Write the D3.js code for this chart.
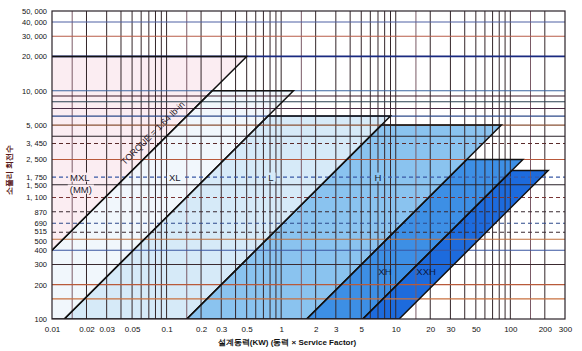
<!DOCTYPE html>
<html>
<head>
<meta charset="utf-8">
<script src="https://cdn.jsdelivr.net/npm/d3@7"></script>
<style>
  body { margin: 0; background: #fff; }
  svg { display: block; }
  text { font-family: "Liberation Sans", Arial, sans-serif; }
</style>
</head>
<body>
<svg id="chart" width="582" height="351"></svg>
<script>
// belt bands: each one sits between two constant-torque diagonals
const belts = ["MXL", "XL", "L", "H", "XH", "XXH"];
const beltMaxRpm = [20000, 10000, 6000, 5000, 2500, 2000];
// kW read at 100 rpm on the left / right diagonal of each band
const beltLowKw = [0.000001, 0.0025, 0.0128, 0.15, 1.67, 5.15];
const beltHighKw = [0.0025, 0.0128, 0.15, 1.67, 5.15, 10.7];
const labelKw = [0.0175, 0.118, 0.815, 7, 8.05, 18.4];
const labelRpm = [1750, 1750, 1750, 1750, 258, 258];

const xTicks = [0.01, 0.02, 0.03, 0.05, 0.1, 0.2, 0.3, 0.5, 1, 2, 3, 5, 10, 20, 30, 50, 100, 200, 300];
const yTicks = [50000, 40000, 30000, 20000, 10000, 5000, 3450, 2500, 1750, 1500, 1160, 870, 690, 575, 500, 400, 300, 200, 100];
const yTickText = ["50, 000", "40, 000", "30, 000", "20, 000", "10, 000", "5, 000", "3, 450", "2, 500", "1, 750", "1, 500", "1, 100", "870", "690", "515", "500", "400", "300", "200", "100"];

const gridMantissa = [1, 1.5, 2, 3, 4, 5, 6, 7, 8, 9];
const rpmSolid = [150, 200, 300, 400, 500, 1500, 2500, 4000, 5000, 6000, 7000, 8000, 9000, 10000, 20000, 30000, 40000];
const rpmDashed = [575, 690, 870, 1160, 1750, 3450];

const torqueLabel = "TORQUE = 1.64 lb-in";
const torqueLabelKw = 0.09;

// styles
const bandFill = {
  MXL: "#fbedf2",
  XL: "#f1f7fc",
  L: "#d6eaf8",
  H: "#8ac3ef",
  XH: "#3d8fe5",
  XXH: "#1d6bdd",
};
const rowColor = {
  150: "#c8703f", 200: "#b85a3a", 300: "#3a2a30", 400: "#3a56a0", 500: "#c0703c",
  575: "#3a2a30", 690: "#2e4a8a", 870: "#3a2a30", 1160: "#7a3434", 1500: "#2a2228",
  1750: "#3a5aa6", 2500: "#b8583a", 3450: "#5a2a2a", 4000: "#2a2228", 5000: "#8a5236",
  6000: "#2e4a8a", 7000: "#4a2c44", 8000: "#2a4050", 9000: "#3a1a2a", 10000: "#3a64a0",
  20000: "#1a2a80", 30000: "#b85c48", 40000: "#4e60a4",
};
// vertical lines at the 1.5 steps look lighter in print
const halfStepColor = "#7a5a66";
const gridColor = "#34262a";

const svg = d3.select("#chart");
const x = d3.scaleLog().domain([0.01, 300]).range([52, 565]);
const y = d3.scaleLog().domain([100, 50000]).range([319, 11]);
const [x0, x1] = x.range();
const [y0, y1] = y.range();

svg.append("defs").append("clipPath").attr("id", "plot")
  .append("rect")
  .attr("x", x0).attr("y", y1)
  .attr("width", x1 - x0).attr("height", y0 - y1);

const bands = belts.map((name, i) => {
  const top = beltMaxRpm[i];
  const k = top / 100;
  return {
    name,
    pts: [
      [beltLowKw[i], 100],
      [beltHighKw[i], 100],
      [beltHighKw[i] * k, top],
      [beltLowKw[i] * k, top],
    ],
  };
});
const line = d3.line().x((d) => x(d[0])).y((d) => y(d[1]));

const plot = svg.append("g").attr("clip-path", "url(#plot)");

plot.append("g").selectAll("path")
  .data(bands)
  .join("path")
  .attr("d", (d) => line(d.pts) + "Z")
  .attr("fill", (d) => bandFill[d.name]);

// vertical grid
const vGrid = [];
for (let e = -2; e <= 2; e++) {
  gridMantissa.forEach((m) => {
    const v = +(m * Math.pow(10, e)).toPrecision(3);
    if (v > 0.01 && v < 300) vGrid.push({ v, half: m === 1.5 });
  });
}
plot.append("g").selectAll("line")
  .data(vGrid)
  .join("line")
  .attr("x1", (d) => x(d.v)).attr("x2", (d) => x(d.v))
  .attr("y1", y0).attr("y2", y1)
  .attr("stroke", (d) => (d.half ? halfStepColor : gridColor))
  .attr("stroke-width", 1);

// horizontal grid
plot.append("g").selectAll("line")
  .data(rpmSolid)
  .join("line")
  .attr("x1", x0).attr("x2", x1)
  .attr("y1", (d) => y(d)).attr("y2", (d) => y(d))
  .attr("stroke", (d) => rowColor[d])
  .attr("stroke-width", (d) => (d === 20000 ? 1.6 : 1.1));

plot.append("g").selectAll("line")
  .data(rpmDashed)
  .join("line")
  .attr("x1", x0).attr("x2", x1)
  .attr("y1", (d) => y(d)).attr("y2", (d) => y(d))
  .attr("stroke", (d) => rowColor[d])
  .attr("stroke-width", 1.1)
  .attr("stroke-dasharray", "4,3");

// band outlines
plot.append("g").selectAll("path")
  .data(bands)
  .join("path")
  .attr("d", (d) => line(d.pts) + "Z")
  .attr("fill", "none")
  .attr("stroke", "#111")
  .attr("stroke-width", 1.5);

// frame
svg.append("rect")
  .attr("x", x0).attr("y", y1)
  .attr("width", x1 - x0).attr("height", y0 - y1)
  .attr("fill", "none")
  .attr("stroke", "#2a2228")
  .attr("stroke-width", 1.2);

// axes
const xAxis = svg.append("g")
  .attr("transform", `translate(0,${y0})`)
  .call(d3.axisBottom(x).tickValues(xTicks).tickFormat((d) => String(d)).tickSize(0).tickPadding(7));
xAxis.select(".domain").remove();
xAxis.selectAll("text").attr("font-size", 8).attr("fill", "#111")
  .attr("font-family", '"Liberation Sans", Arial, sans-serif');

const yAxis = svg.append("g")
  .attr("transform", `translate(${x0},0)`)
  .call(d3.axisLeft(y).tickValues(yTicks).tickFormat((d, i) => yTickText[i]).tickSize(0).tickPadding(5));
yAxis.select(".domain").remove();
yAxis.selectAll("text")
  .attr("font-size", 7.5)
  .attr("fill", "#111")
  .attr("font-family", '"Liberation Sans", Arial, sans-serif')
  // the 515 / 500 labels are spread apart in print
  .attr("dy", (d) => (d === 500 ? "0.62em" : d === 575 ? "0.22em" : "0.32em"));

// band labels with knock-out background
const labels = svg.append("g");
function addLabel(px, py, text, fill, bg) {
  const g = labels.append("g").attr("transform", `translate(${px},${py})`);
  const t = g.append("text")
    .attr("text-anchor", "middle")
    .attr("dy", "0.36em")
    .attr("font-size", 9.5)
    .attr("fill", fill)
    .text(text);
  if (bg) {
    const b = t.node().getBBox();
    g.insert("rect", "text")
      .attr("x", b.x - 2).attr("y", b.y + 1)
      .attr("width", b.width + 4).attr("height", b.height - 2)
      .attr("fill", bg);
  }
}
belts.forEach((name, i) => {
  const px = x(labelKw[i]);
  const py = y(labelRpm[i]);
  addLabel(px, py, name, i >= 4 ? "#0c1740" : "#1a1a2e", i < 4 ? bandFill[name] : null);
  if (name === "MXL") addLabel(px + 1, py + 12, "(MM)", "#1a1a2e", bandFill[name]);
});

// torque label along the MXL diagonal
const kA = beltHighKw[0] / 100;
const tx = x(torqueLabelKw) - 8.5;
const ty = y(torqueLabelKw / kA) - 8.5;
svg.append("text")
  .attr("transform", `translate(${tx},${ty}) rotate(-45)`)
  .attr("text-anchor", "middle")
  .attr("dy", "0.36em")
  .attr("font-size", 9)
  .attr("fill", "#2a1a2a")
  .text(torqueLabel);

// axis titles
svg.append("text")
  .attr("x", 287).attr("y", 345)
  .attr("text-anchor", "middle")
  .attr("font-size", 8)
  .attr("font-weight", "bold")
  .attr("font-family", '"Noto Sans CJK KR", "Noto Sans", sans-serif')
  .attr("fill", "#111")
  .text("설계동력(KW) (동력 × Service Factor)");

svg.append("text")
  .attr("transform", "translate(12,170) rotate(-90)")
  .attr("text-anchor", "middle")
  .attr("font-size", 8)
  .attr("font-weight", "bold")
  .attr("font-family", '"Noto Sans CJK KR", "Noto Sans", sans-serif')
  .attr("fill", "#5a1a1a")
  .text("소풀리 회전수");
</script>
</body>
</html>
